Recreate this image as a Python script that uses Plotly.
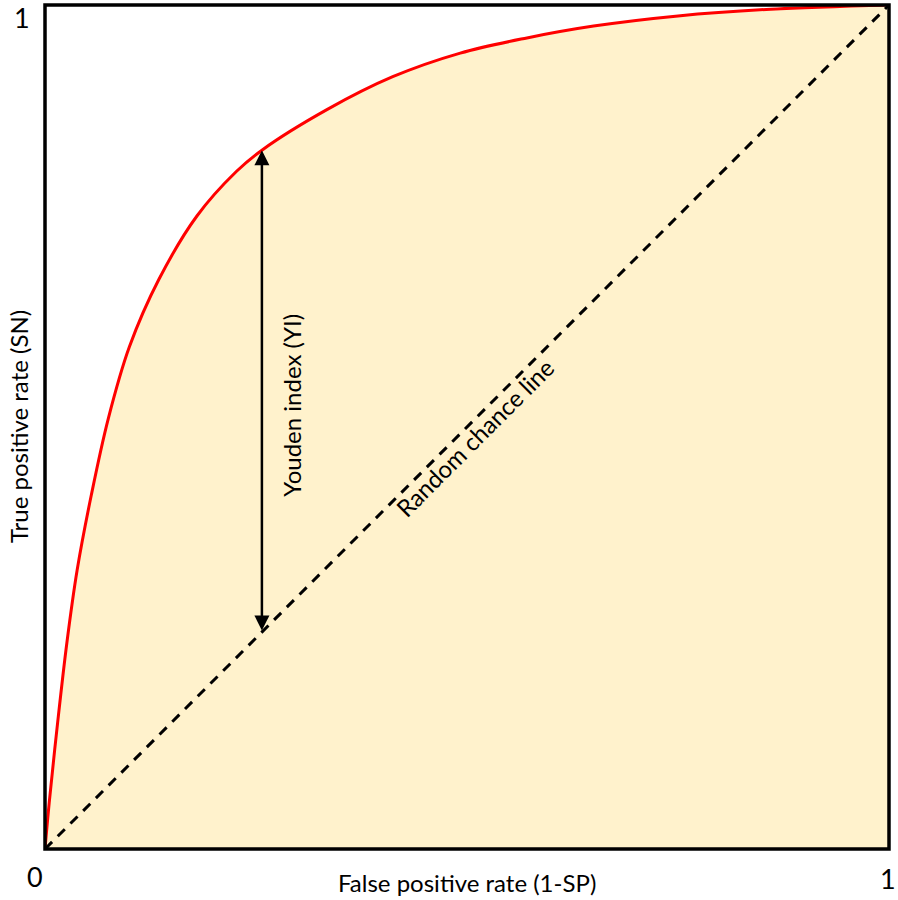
import plotly.graph_objects as go

# ROC curve values
fpr = [0.0, 0.005, 0.015, 0.026, 0.038, 0.055, 0.075, 0.10, 0.135, 0.18,
       0.227, 0.257, 0.334, 0.412, 0.492, 0.571, 0.65, 0.75, 0.86, 1.0]
tpr = [0.0, 0.055, 0.15, 0.245, 0.33, 0.42, 0.51, 0.595, 0.675, 0.75,
       0.803, 0.828, 0.876, 0.915, 0.943, 0.961, 0.975, 0.987, 0.995, 1.0]

chance_x = [0.0, 1.0]
chance_y = [0.0, 1.0]

youden_fpr = 0.257
youden_tpr = 0.828

tick_vals = [0, 1]
tick_text = ["0", "1"]

FONT = "Lato"
TXT = 24

fig = go.Figure()
fig.add_trace(go.Scatter(
    x=fpr, y=tpr, mode="lines", line=dict(color="#FF0000", width=3, shape="spline", smoothing=1.0),
    fill="tozeroy", fillcolor="#FFF2CC", hoverinfo="skip", showlegend=False))
fig.add_trace(go.Scatter(
    x=chance_x, y=chance_y, mode="lines",
    line=dict(color="black", width=3, dash="10px,8px"), hoverinfo="skip", showlegend=False))

# Youden index arrow
fig.add_annotation(x=youden_fpr, y=youden_tpr, ax=youden_fpr, ay=youden_fpr,
                   xref="x", yref="y", axref="x", ayref="y", text="",
                   showarrow=True, arrowhead=2, startarrowhead=2, arrowside="end+start",
                   arrowwidth=2.5, arrowsize=1.2, startarrowsize=1.2, arrowcolor="black")

fig.add_annotation(x=0.291, y=0.526, xref="x", yref="y", text="Youden index (YI)",
                   textangle=-90, showarrow=False, font=dict(family=FONT, size=TXT, color="black"))
fig.add_annotation(x=0.509, y=0.488, xref="x", yref="y", text="Random chance line",
                   textangle=-45, showarrow=False, font=dict(family=FONT, size=TXT, color="black"))

# tick labels
tick_font = dict(family=FONT, size=27, color="black")
fig.add_annotation(x=tick_vals[0], y=0, xref="x", yref="paper", text=tick_text[0], showarrow=False,
                   xanchor="center", yanchor="middle", xshift=-10, yshift=-27, font=tick_font)
fig.add_annotation(x=tick_vals[1], y=0, xref="x", yref="paper", text=tick_text[1], showarrow=False,
                   xanchor="center", yanchor="middle", xshift=-1, yshift=-29, font=tick_font)
fig.add_annotation(x=0, y=tick_vals[1], xref="paper", yref="y", text=tick_text[1], showarrow=False,
                   xanchor="center", yanchor="middle", xshift=-23, yshift=-12, font=tick_font)

# axis titles
fig.add_annotation(x=0.5, y=0, xref="x", yref="paper", text="False positive rate (1-SP)",
                   showarrow=False, xanchor="center", yanchor="middle", yshift=-33,
                   font=dict(family=FONT, size=TXT, color="black"))
fig.add_annotation(x=0, y=0.5, xref="paper", yref="y", text="True positive rate (SN)",
                   showarrow=False, xanchor="center", yanchor="middle", xshift=-27, textangle=-90,
                   font=dict(family=FONT, size=TXT, color="black"))

fig.add_shape(type="rect", xref="paper", yref="paper", x0=0, y0=0, x1=1, y1=1,
              line=dict(color="black", width=3.5), layer="above")

fig.update_xaxes(range=[0, 1], showgrid=False, zeroline=False, showticklabels=False, showline=False)
fig.update_yaxes(range=[0, 1], showgrid=False, zeroline=False, showticklabels=False, showline=False)
fig.update_layout(width=898, height=900, margin=dict(l=45, r=9, t=5, b=51),
                  plot_bgcolor="white", paper_bgcolor="white")

fig.write_html("out.html", config={"displayModeBar": False},
               post_script="document.body.style.margin='0';document.body.style.overflow='hidden';")
